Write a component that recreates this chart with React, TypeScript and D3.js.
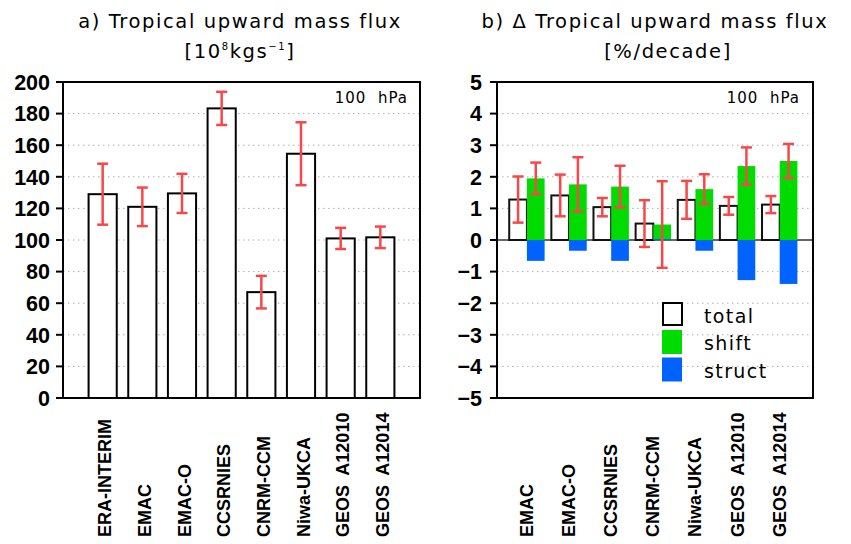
import React from "react";
import * as d3 from "d3";

const modelsA = ["ERA-INTERIM", "EMAC", "EMAC-O", "CCSRNIES", "CNRM-CCM", "Niwa-UKCA", "GEOS A12010", "GEOS A12014"];
const fluxValues = [129, 121, 129.5, 183.3, 67, 154.6, 101, 101.7];
const fluxErrors = [19.3, 12.2, 12.4, 10.5, 10.3, 19.9, 6.7, 6.8];
const fluxTicks = [0, 20, 40, 60, 80, 100, 120, 140, 160, 180, 200];

const modelsB = ["EMAC", "EMAC-O", "CCSRNIES", "CNRM-CCM", "Niwa-UKCA", "GEOS A12010", "GEOS A12014"];
const totalTrend = [1.28, 1.41, 1.04, 0.52, 1.27, 1.08, 1.12];
const totalErr = [0.73, 0.66, 0.29, 0.74, 0.6, 0.28, 0.27];
const shiftTrend = [1.95, 1.76, 1.69, 0.49, 1.61, 2.34, 2.5];
const shiftErr = [0.5, 0.86, 0.66, 1.37, 0.47, 0.59, 0.54];
const structTrend = [-0.66, -0.34, -0.66, 0.03, -0.34, -1.27, -1.39];
const trendTicks = [-5, -4, -3, -2, -1, 0, 1, 2, 3, 4, 5];
const legendItems = ["total", "shift", "struct"];

const RED = "#f64848";
const GREEN = "#00dc00";
const BLUE = "#0062ff";
const TITLE_FONT = "'DejaVu Sans', sans-serif";
const TICK_FONT = "'Liberation Sans', Arial, sans-serif";

const fmt = (v: number) => (v < 0 ? "\u2212" + Math.abs(v) : String(v));

function ErrorBar({ x, y1, y2 }: { x: number; y1: number; y2: number }) {
  return (
    <g stroke={RED} strokeWidth={2.5}>
      <line x1={x} x2={x} y1={y1} y2={y2} />
      <line x1={x - 5.5} x2={x + 5.5} y1={y1} y2={y1} />
      <line x1={x - 5.5} x2={x + 5.5} y1={y2} y2={y2} />
    </g>
  );
}

function XLabel({ x, text }: { x: number; text: string }) {
  return (
    <text
      transform={`translate(${x},537) rotate(-90)`}
      fontFamily={TICK_FONT}
      fontWeight="bold"
      fontSize={18}
      textAnchor="start"
      style={{ whiteSpace: "pre" }}
    >
      {text.replace(" ", "  ")}
    </text>
  );
}

export default function App() {
  // Panel a
  const xa = d3.scaleLinear().domain([0, 9]).range([63, 420]);
  const ya = d3.scaleLinear().domain([0, 200]).range([398, 82]);
  const bwA = 0.71;

  // Panel b
  const xb = d3.scaleLinear().domain([0.29, 7.79]).range([497, 813]);
  const yb = d3.scaleLinear().domain([-5, 5]).range([398, 82]);
  const bwB = 0.42;

  return (
    <svg width={851} height={544} style={{ position: "absolute", left: 0, top: 0, background: "#fff" }}>
      <rect x={0} y={0} width={851} height={544} fill="#fff" />
      {/* Titles */}
      <g fontFamily={TITLE_FONT} fontSize={19.5} letterSpacing={1.6} textAnchor="middle" fill="#000">
        <text x={240} y={28}>a) Tropical upward mass flux</text>
        <text x={240} y={58}>
          [10<tspan fontSize={10} dy={-8}>8</tspan>
          <tspan dy={8}>kgs</tspan>
          <tspan fontSize={10} dy={-8}>−1</tspan>
          <tspan dy={8}>]</tspan>
        </text>
        <text x={655} y={28}>b) Δ Tropical upward mass flux</text>
        <text x={668} y={58}>[%/decade]</text>
      </g>

      {/* ---------- Panel a ---------- */}
      <g>
        {fluxTicks.filter((t) => t !== 0 && t !== 200).map((t) => (
          <line key={t} x1={xa(0)} x2={xa(9)} y1={ya(t)} y2={ya(t)} stroke="#b0b0b0" strokeWidth={1} strokeDasharray="1.5 3.5" />
        ))}
        {fluxValues.map((v, i) => (
          <rect
            key={i}
            x={xa(i + 1 - bwA / 2)}
            y={ya(v)}
            width={xa(bwA) - xa(0)}
            height={ya(0) - ya(v)}
            fill="#fff"
            stroke="#000"
            strokeWidth={2}
          />
        ))}
        {fluxValues.map((v, i) => (
          <ErrorBar key={i} x={xa(i + 1)} y1={ya(v + fluxErrors[i])} y2={ya(v - fluxErrors[i])} />
        ))}
        <rect x={xa(0)} y={ya(200)} width={xa(9) - xa(0)} height={ya(0) - ya(200)} fill="none" stroke="#000" strokeWidth={2} />
        {fluxTicks.map((t) => (
          <g key={t}>
            <line x1={xa(0) - 7} x2={xa(0)} y1={ya(t)} y2={ya(t)} stroke="#000" strokeWidth={2} />
            <text
              x={50}
              y={ya(t)}
              dy="0.36em"
              textAnchor="end"
              fontFamily={TICK_FONT}
              fontWeight="bold"
              fontSize={21.5}
            >
              {fmt(t)}
            </text>
          </g>
        ))}
        <text x={408} y={103} textAnchor="end" fontFamily={TITLE_FONT} fontSize={15} letterSpacing={1} style={{ whiteSpace: "pre" }}>
          {"100  hPa"}
        </text>
        {modelsA.map((m, i) => (
          <XLabel key={m} x={xa(i + 1) + 8.5} text={m} />
        ))}
      </g>

      {/* ---------- Panel b ---------- */}
      <g>
        {trendTicks.filter((t) => t !== 0 && Math.abs(t) !== 5).map((t) => (
          <line key={t} x1={xb.range()[0]} x2={xb.range()[1]} y1={yb(t)} y2={yb(t)} stroke="#b0b0b0" strokeWidth={1} strokeDasharray="1.5 3.5" />
        ))}
        <line x1={xb.range()[0]} x2={xb.range()[1]} y1={yb(0)} y2={yb(0)} stroke="#333" strokeWidth={1.6} />
        {totalTrend.map((v, i) => (
          <rect
            key={"t" + i}
            x={xb(i + 1 - bwB)}
            y={yb(v)}
            width={xb(bwB) - xb(0)}
            height={yb(0) - yb(v)}
            fill="#fff"
            stroke="#111"
            strokeWidth={2}
          />
        ))}
        {shiftTrend.map((v, i) => (
          <rect
            key={"s" + i}
            x={xb(i + 1)}
            y={yb(Math.max(v, 0))}
            width={xb(bwB) - xb(0)}
            height={Math.abs(yb(0) - yb(v))}
            fill={GREEN}
          />
        ))}
        {structTrend.map((v, i) => (
          <rect
            key={"c" + i}
            x={xb(i + 1)}
            y={yb(Math.max(v, 0))}
            width={xb(bwB) - xb(0)}
            height={Math.max(1, Math.abs(yb(0) - yb(v)))}
            fill={BLUE}
          />
        ))}
        {totalTrend.map((v, i) => (
          <ErrorBar key={"et" + i} x={xb(i + 1 - bwB / 2)} y1={yb(v + totalErr[i])} y2={yb(v - totalErr[i])} />
        ))}
        {shiftTrend.map((v, i) => (
          <ErrorBar key={"es" + i} x={xb(i + 1 + bwB / 2)} y1={yb(v + shiftErr[i])} y2={yb(v - shiftErr[i])} />
        ))}
        <rect
          x={xb.range()[0]}
          y={yb(5)}
          width={xb.range()[1] - xb.range()[0]}
          height={yb(-5) - yb(5)}
          fill="none"
          stroke="#000"
          strokeWidth={2}
        />
        {trendTicks.map((t) => (
          <g key={t}>
            <line x1={xb.range()[0] - 7} x2={xb.range()[0]} y1={yb(t)} y2={yb(t)} stroke="#000" strokeWidth={2} />
            <text
              x={482}
              y={yb(t)}
              dy="0.36em"
              textAnchor="end"
              fontFamily={TICK_FONT}
              fontWeight="bold"
              fontSize={21.5}
            >
              {fmt(t)}
            </text>
          </g>
        ))}
        <text x={800} y={103} textAnchor="end" fontFamily={TITLE_FONT} fontSize={15} letterSpacing={1} style={{ whiteSpace: "pre" }}>
          {"100  hPa"}
        </text>
        {legendItems.map((name, i) => {
          const y0 = 303 + i * 27.5;
          return (
            <g key={name}>
              {i === 0 ? (
                <rect x={663} y={y0} width={19} height={22} fill="#fff" stroke="#000" strokeWidth={2} />
              ) : (
                <rect x={662} y={y0 - 0.5} width={20} height={24} fill={i === 1 ? GREEN : BLUE} />
              )}
              <text x={704} y={y0 + 19.5} fontFamily={TITLE_FONT} fontSize={19} letterSpacing={1.4}>
                {name}
              </text>
            </g>
          );
        })}
        {modelsB.map((m, i) => (
          <XLabel key={m} x={xb(i + 1) + 6} text={m} />
        ))}
      </g>
    </svg>
  );
}
